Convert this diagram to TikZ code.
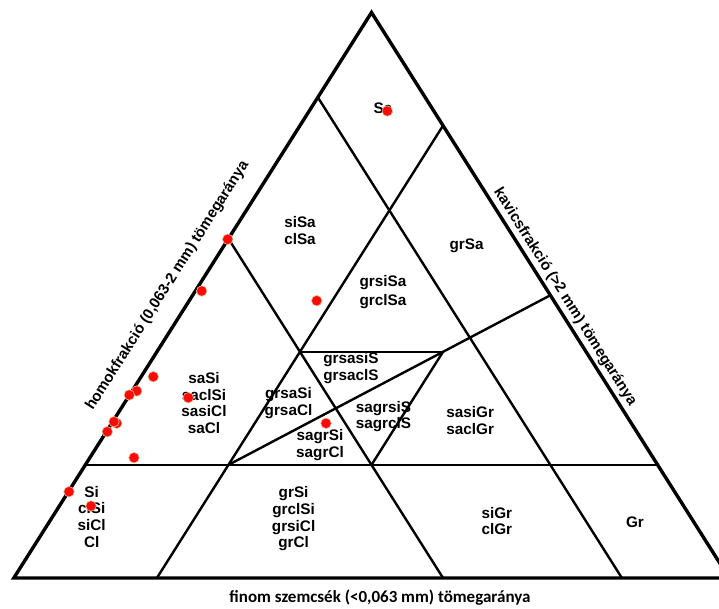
\documentclass[tikz,border=0pt]{standalone}
\usepackage{fontspec}
\setmainfont{Liberation Sans}
\newfontfamily\calib{Carlito}
\begin{document}
\begin{tikzpicture}[x=1pt,y=-1pt,
  outer/.style={line width=3.4pt, line join=miter},
  inner/.style={line width=2.4pt},
  lbl/.style={font=\bfseries\fontsize{15.3}{16.7}\selectfont, align=center, inner sep=0pt},
  axis/.style={font=\bfseries\fontsize{15}{17}\selectfont, inner sep=0pt},
  dot/.style={circle, minimum size=10.5pt, inner sep=0pt, fill={rgb,255:red,255;green,8;blue,8}, draw={rgb,255:red,220;green,195;blue,150}, line width=0.6pt}]
\useasboundingbox (0,0) rectangle (719,608);
\fill[white] (0,0) rectangle (719,608);
\coordinate (A) at (13.8,578);
\coordinate (B) at (729.2,578);
\coordinate (C) at (371.5,12.5);
% ternary points (A=fine, B=gravel, C=sand)
\coordinate (L60) at (barycentric cs:A=0.4,B=0,C=0.6);
\coordinate (B40) at (barycentric cs:A=0.4,B=0.6,C=0);
\coordinate (L85) at (barycentric cs:A=0.15,B=0,C=0.85);
\coordinate (B15) at (barycentric cs:A=0.15,B=0.85,C=0);
\coordinate (R80) at (barycentric cs:A=0,B=0.2,C=0.8);
\coordinate (B80) at (barycentric cs:A=0.8,B=0.2,C=0);
\coordinate (L20) at (barycentric cs:A=0.8,B=0,C=0.2);
\coordinate (R20) at (barycentric cs:A=0,B=0.8,C=0.2);
\coordinate (P1) at (barycentric cs:A=0.6,B=0.2,C=0.2);
\coordinate (R50) at (barycentric cs:A=0,B=0.5,C=0.5);
\coordinate (Q1) at (barycentric cs:A=0.4,B=0.2,C=0.4);
\coordinate (Q2) at (barycentric cs:A=0.2,B=0.4,C=0.4);
\coordinate (Q3) at (barycentric cs:A=0.4,B=0.4,C=0.2);
\begin{scope}
\clip (0,0) rectangle (719,608);
\draw[inner] (L60) -- (B40);
\draw[inner] (L85) -- (B15);
\draw[inner] (R80) -- (B80);
\draw[inner] (L20) -- (R20);
\draw[inner] (P1) -- (R50);
\draw[inner] (Q1) -- (Q2);
\draw[inner] (Q2) -- (Q3);
\draw[outer] (A) -- (C) -- (B) -- cycle;
\end{scope}
% labels
\node[lbl] (sa) at (383,108) {Sa};
\node[lbl] (sisa) at (300,230.5) {siSa\\clSa};
\node[lbl] (grsa) at (466.5,246) {grSa};
\node[lbl] (grsisa) at (383,292) {grsiSa\\[2.7pt]grclSa};
\node[lbl] (sasi) at (204,403) {saSi\\saclSi\\sasiCl\\saCl};
\node[lbl] (grsasis) at (351,368) {grsasiS\\grsaclS};
\node[lbl] (grsasi) at (288.5,403) {grsaSi\\grsaCl};
\node[lbl] (sagrsis) at (383.5,416.7) {sagrsiS\\sagrclS};
\node[lbl] (sagrsi) at (320,445) {sagrSi\\sagrCl};
\node[lbl] (sasigr) at (470.2,420.5) {sasiGr\\saclGr};
\node[lbl] (si) at (91.7,516.7) {Si\\clSi\\siCl\\Cl};
\node[lbl] (grsi) at (293.6,519) {grSi\\grclSi\\grsiCl\\grCl};
\node[lbl] (sigr) at (496.8,521) {siGr\\clGr};
\node[lbl] (gr) at (635,522.7) {Gr};
% axis labels
\node[axis, rotate=57.7] (ax1) at (167.5,285.5) {homokfrakció (0,063-2 mm) tömegaránya};
\node[axis, rotate=-57.7] (ax2) at (565,297) {kavicsfrakció (>2 mm) tömegaránya};
\node[inner sep=0pt, font=\calib\bfseries\fontsize{17}{19}\selectfont] (ax3) at (380,597.5) {finom szemcsék (<0,063 mm) tömegaránya};
% data points
\node[dot] (d1) at (387.3,111) {};
\node[dot] (d2) at (227.7,239.3) {};
\node[dot] (d3) at (201.7,291) {};
\node[dot] (d4) at (316.7,300.7) {};
\node[dot] (d5) at (153.3,376.7) {};
\node[dot] (d6) at (136.7,391) {};
\node[dot] (d7) at (129.3,395) {};
\node[dot] (d8) at (188.3,397.7) {};
\node[dot] (d9) at (116.7,423.3) {};
\node[dot] (d10) at (114,421.7) {};
\node[dot] (d11) at (107.3,431.7) {};
\node[dot] (d12) at (134,457.7) {};
\node[dot] (d13) at (69,491.7) {};
\node[dot] (d14) at (91,506) {};
\node[dot] (d15) at (326,423.3) {};
\end{tikzpicture}
\end{document}
